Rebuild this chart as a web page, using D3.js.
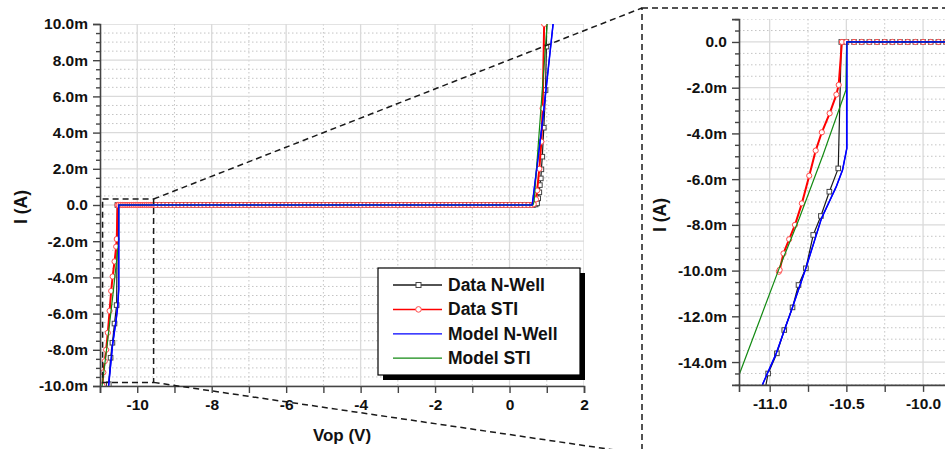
<!DOCTYPE html>
<html>
<head>
<meta charset="utf-8">
<script src="https://cdn.jsdelivr.net/npm/d3@7"></script>
<style>
  body { margin: 0; background: #fff; }
  svg { display: block; }
  text { font-family: "Liberation Sans", Arial, sans-serif; font-weight: bold; fill: #111; }
</style>
</head>
<body>
<div id="chart"></div>
<script>
// Flat part of the measured sweep (I = 0), volts
const sweepV = [-10.5,-10.45,-10.4,-10.35,-10.3,-10.25,-10.2,-10.15,-10.1,-10.05,-10,-9.95,-9.9,-9.85,-9.8,-9.75,-9.7,-9.65,-9.6,-9.55,-9.5,
  -9.4,-9.3,-9.2,-9.1,-9,-8.9,-8.8,-8.7,-8.6,-8.5,-8.4,-8.3,-8.2,-8.1,-8,-7.9,-7.8,-7.7,-7.6,-7.5,-7.4,-7.3,-7.2,-7.1,
  -7,-6.9,-6.8,-6.7,-6.6,-6.5,-6.4,-6.3,-6.2,-6.1,-6,-5.9,-5.8,-5.7,-5.6,-5.5,-5.4,-5.3,-5.2,-5.1,
  -5,-4.9,-4.8,-4.7,-4.6,-4.5,-4.4,-4.3,-4.2,-4.1,-4,-3.9,-3.8,-3.7,-3.6,-3.5,-3.4,-3.3,-3.2,-3.1,
  -3,-2.9,-2.8,-2.7,-2.6,-2.5,-2.4,-2.3,-2.2,-2.1,-2,-1.9,-1.8,-1.7,-1.6,-1.5,-1.4,-1.3,-1.2,-1.1,
  -1,-0.9,-0.8,-0.7,-0.6,-0.5,-0.4,-0.3,-0.2,-0.1,0,0.1,0.2,0.3,0.4,0.5,0.6]

// Data N-Well (mA)
const nwellRevV = [-11.03,-11.01,-10.953,-10.905,-10.851,-10.812,-10.764,-10.716,-10.666,-10.611,-10.553,-10.533]
const nwellRevI = [-15.2,-14.5,-13.62,-12.6,-11.61,-10.63,-9.9,-8.44,-7.61,-6.55,-5.53,0]
const nwellFwdV = [0.64,0.7,0.74,0.77,0.8,0.815,0.84,0.855,0.88,0.92,0.967,0.99,1.0]
const nwellFwdI = [0.01,0.03,0.09,0.37,0.7,1.1,1.47,1.97,2.67,4.27,6.35,8.75,10.3]

// Data STI (mA)
const stiRevV = [-10.94,-10.935,-10.91,-10.873,-10.835,-10.79,-10.742,-10.7,-10.66,-10.609,-10.565,-10.55,-10.529]
const stiRevI = [-10.05,-9.97,-9.25,-8.63,-8.0,-7.06,-5.85,-4.75,-3.95,-3.12,-2.3,-1.88,0]
const stiFwdV = [0.65,0.71,0.74,0.8,0.855,0.888,0.93,0.94]
const stiFwdI = [0.05,0.31,0.8,2.0,3.5,5.34,10,10.5]

// Model N-Well (mA)
const modelNwellV = [-11.1,-11.043,-10.957,-10.85,-10.761,-10.663,-10.566,-10.525,-10.497,-10.497,0.61,0.9,1.17,1.2]
const modelNwellI = [-16,-14.93,-13.62,-11.58,-9.83,-7.73,-6.33,-5.6,-4.65,0,0,4.85,10,10.6]

// Model STI (mA)
const modelStiV = [-11.25,-11.196,-10.935,-10.808,-10.65,-10.503,-10.5,-10.497,0.63,0.66,1.01,1.03]
const modelStiI = [-15.4,-14.5,-9.85,-7.73,-4.9,-2.1,-0.7,0,0,0.2,10,10.4]

const seriesNames = ['Data N-Well', 'Data STI', 'Model N-Well', 'Model STI']

// Tick labels
const leftXLabels = [-10, -8, -6, -4, -2, 0, 2]
const leftXOther = [-11, -9, -7, -5, -3, -1, 1]
const leftYLabels = [-10, -8, -6, -4, -2, 0, 2, 4, 6, 8, 10]
const rightXLabels = [-11, -10.5, -10]
const rightXOther = [-10.75, -10.25, -9.75]
const rightYLabels = [-14, -12, -10, -8, -6, -4, -2, 0]

// Zoomed window marked on the main plot (V, mA)
const zoomBoxV = [-10.93, -9.56]
const zoomBoxI = [0.33, -9.8]

const zeros = sweepV.map(() => 0)
const series = [
  { name: seriesNames[0], v: [...nwellRevV, ...sweepV, ...nwellFwdV], i: [...nwellRevI, ...zeros, ...nwellFwdI],
    color: '#1a1a1a', width: 1.2, marker: 'square', mcolor: '#444' },
  { name: seriesNames[1], v: [...stiRevV, ...sweepV, ...stiFwdV], i: [...stiRevI, ...zeros, ...stiFwdI],
    color: '#ff0000', width: 2, marker: 'circle', mcolor: '#ff4a4a' },
  { name: seriesNames[2], v: modelNwellV, i: modelNwellI, color: '#0000ff', width: 1.5 },
  { name: seriesNames[3], v: modelStiV, i: modelStiI, color: '#138a13', width: 1.2 }
]

const width = 945, height = 449
const svg = d3.select('#chart').append('svg')
  .attr('width', width)
  .attr('height', height)

const fmtI = v => v === 0 ? '0.0' : v.toFixed(1) + 'm'

const drawPanel = (id, x, y, xLab, xOther, yLab, xFmt) => {
  const [px0, px1] = x.range()
  const [py1, py0] = y.range()
  const clipW = Math.min(px1, width) - px0

  svg.append('clipPath').attr('id', id)
    .append('rect')
      .attr('x', px0).attr('y', py0)
      .attr('width', clipW).attr('height', py1 - py0)

  const g = svg.append('g')
  const yMinor = d3.range(y.domain()[0], y.domain()[1] + 0.001, 0.5).filter(v => !yLab.includes(v))

  // grid: dotted for minor, solid for labelled
  const grid = g.append('g').attr('clip-path', `url(#${id})`)
  grid.selectAll('.gx2').data(xOther).enter().append('line')
    .attr('x1', d => x(d)).attr('x2', d => x(d)).attr('y1', py0).attr('y2', py1)
    .attr('stroke', '#c4c4c4').attr('stroke-dasharray', '1.5,2.5')
  grid.selectAll('.gy2').data(yMinor).enter().append('line')
    .attr('y1', d => y(d)).attr('y2', d => y(d)).attr('x1', px0).attr('x2', px1)
    .attr('stroke', '#c4c4c4').attr('stroke-dasharray', '1.5,2.5')
  grid.selectAll('.gx').data(xLab).enter().append('line')
    .attr('x1', d => x(d)).attr('x2', d => x(d)).attr('y1', py0).attr('y2', py1)
    .attr('stroke', '#dadada').attr('stroke-width', 1.3)
  grid.selectAll('.gy').data(yLab).enter().append('line')
    .attr('y1', d => y(d)).attr('y2', d => y(d)).attr('x1', px0).attr('x2', px1)
    .attr('stroke', '#dadada').attr('stroke-width', 1.3)

  // curves
  const plot = g.append('g').attr('clip-path', `url(#${id})`)
  series.forEach(s => {
    const pts = s.v.map((v, k) => [v, s.i[k]])
    plot.append('path')
      .attr('d', d3.line().x(d => x(d[0])).y(d => y(d[1]))(pts))
      .attr('fill', 'none')
      .attr('stroke', s.color)
      .attr('stroke-width', s.width)
      .attr('stroke-linejoin', 'round')
    if (s.marker === 'square') {
      plot.selectAll(null).data(pts).enter().append('rect')
        .attr('x', d => x(d[0]) - 2.3).attr('y', d => y(d[1]) - 2.3)
        .attr('width', 4.6).attr('height', 4.6)
        .attr('fill', '#fff').attr('stroke', s.mcolor).attr('stroke-width', 1)
    } else if (s.marker === 'circle') {
      plot.selectAll(null).data(pts).enter().append('circle')
        .attr('cx', d => x(d[0])).attr('cy', d => y(d[1])).attr('r', 2.6)
        .attr('fill', '#fff').attr('stroke', s.mcolor).attr('stroke-width', 1)
    }
  })
  // blue model over the flat data markers
  const m = series[2]
  plot.append('path')
    .attr('d', d3.line().x(d => x(d[0])).y(d => y(d[1]))(m.v.map((v, k) => [v, m.i[k]])))
    .attr('fill', 'none').attr('stroke', m.color).attr('stroke-width', 1.2)

  // axes
  const styleAxis = sel => {
    sel.select('.domain').attr('stroke', '#444').attr('stroke-width', 1.6)
    sel.selectAll('.tick line').attr('stroke', '#444').attr('stroke-width', 1.4)
    sel.selectAll('text').attr('font-size', 15.5).attr('fill', '#111')
      .attr('font-family', '"Liberation Sans", Arial, sans-serif').attr('font-weight', 'bold')
  }
  const xAxis = g.append('g').attr('transform', `translate(0,${py1})`)
    .call(d3.axisBottom(x).tickValues(xLab).tickSize(7).tickPadding(6).tickFormat(xFmt))
  xAxis.call(styleAxis)
  const xAxis2 = g.append('g').attr('transform', `translate(0,${py1})`)
    .call(d3.axisBottom(x).tickValues(xOther).tickSize(7).tickFormat(''))
  xAxis2.call(styleAxis)
  xAxis2.select('.domain').remove()

  const yAxis = g.append('g').attr('transform', `translate(${px0},0)`)
    .call(d3.axisLeft(y).tickValues(yLab).tickSize(7).tickPadding(5).tickFormat(fmtI))
  yAxis.call(styleAxis)
  const yAxis2 = g.append('g').attr('transform', `translate(${px0},0)`)
    .call(d3.axisLeft(y).tickValues(yMinor).tickSize(4).tickFormat(''))
  yAxis2.call(styleAxis)
  yAxis2.select('.domain').remove()
}

// Main plot
const xL = d3.scaleLinear().domain([-11, 2]).range([100, 584])
const yL = d3.scaleLinear().domain([-10, 10]).range([386, 24])
drawPanel('clipL', xL, yL, leftXLabels, leftXOther, leftYLabels, d => String(d))

// Zoomed plot
const xR = d3.scaleLinear().domain([-11.2, -9.6]).range([739, 984.4])
const yR = d3.scaleLinear().domain([-15, 1]).range([384.9, 19.1])
drawPanel('clipR', xR, yR, rightXLabels, rightXOther, rightYLabels, d => d.toFixed(1))

// Axis titles
svg.append('text')
  .attr('transform', 'translate(27,207) rotate(-90)')
  .attr('text-anchor', 'middle').attr('font-size', 17.5)
  .text('I (A)')
svg.append('text')
  .attr('transform', 'translate(666,215) rotate(-90)')
  .attr('text-anchor', 'middle').attr('font-size', 17.5)
  .text('I (A)')
svg.append('text')
  .attr('x', 342).attr('y', 441)
  .attr('text-anchor', 'middle').attr('font-size', 17)
  .text('Vop (V)')

// Zoom box and connectors
const dash = { stroke: '#1a1a1a', 'stroke-width': 1.5, 'stroke-dasharray': '6,4', fill: 'none' }
const bx0 = xL(zoomBoxV[0]), bx1 = xL(zoomBoxV[1])
const by0 = yL(zoomBoxI[0]), by1 = yL(zoomBoxI[1])
const ann = svg.append('g')
const addDash = sel => { Object.entries(dash).forEach(([k, v]) => sel.attr(k, v)); return sel }
addDash(ann.append('rect').attr('x', bx0).attr('y', by0).attr('width', bx1 - bx0).attr('height', by1 - by0))
addDash(ann.append('line').attr('x1', bx1).attr('y1', by0).attr('x2', 642).attr('y2', 8))
addDash(ann.append('line').attr('x1', bx1).attr('y1', by1).attr('x2', 642).attr('y2', 454))
addDash(ann.append('rect').attr('x', 642).attr('y', 8).attr('width', 320).attr('height', 446))

// Legend
const lg = svg.append('g').attr('transform', 'translate(378,268)')
lg.append('rect').attr('x', 5).attr('y', 5).attr('width', 202).attr('height', 107).attr('fill', '#000')
lg.append('rect').attr('x', 0).attr('y', 0).attr('width', 202).attr('height', 107)
  .attr('fill', '#fff').attr('stroke', '#000').attr('stroke-width', 1.2)
series.forEach((s, k) => {
  const yy = 17 + k * 24.4
  lg.append('line').attr('x1', 15).attr('x2', 64).attr('y1', yy).attr('y2', yy)
    .attr('stroke', s.color).attr('stroke-width', s.marker === 'circle' ? 1.5 : 1.3)
  if (s.marker === 'square') {
    lg.append('rect').attr('x', 38).attr('y', yy - 2.5).attr('width', 5).attr('height', 5)
      .attr('fill', '#fff').attr('stroke', s.mcolor)
  } else if (s.marker === 'circle') {
    lg.append('circle').attr('cx', 40.5).attr('cy', yy).attr('r', 2.8)
      .attr('fill', '#fff').attr('stroke', s.mcolor)
  }
  lg.append('text').attr('x', 70).attr('y', yy + 6)
    .attr('font-size', 17.5).text(s.name)
})
</script>
</body>
</html>
